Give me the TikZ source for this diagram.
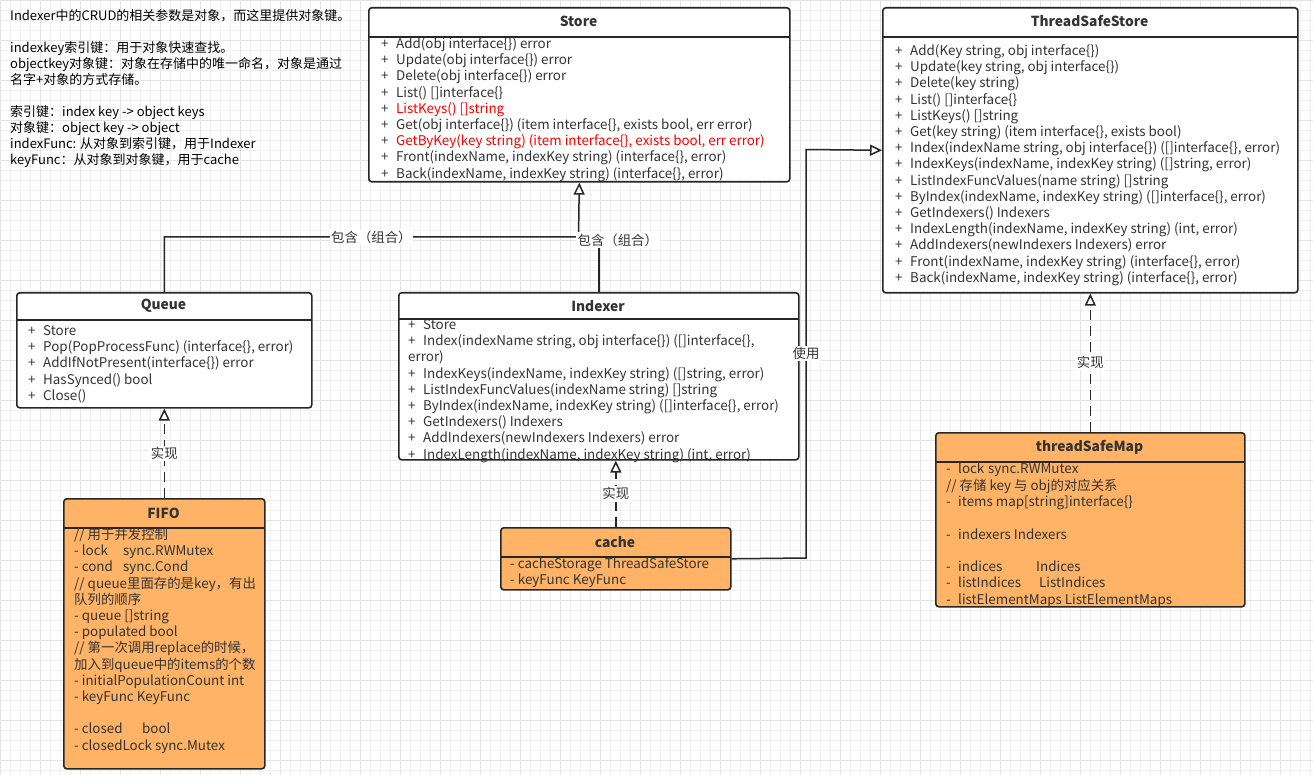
\documentclass[tikz,border=0pt]{standalone}
\usepackage{fontspec}
\setmainfont{Noto Sans CJK SC}
\usetikzlibrary{arrows.meta}
\definecolor{boxorange}{HTML}{FFB366}
\definecolor{inktext}{HTML}{333333}
\definecolor{redop}{HTML}{FF0000}
\newcommand{\pl}[1]{\makebox[15pt][l]{+}#1}
\newcommand{\mi}[1]{\makebox[12pt][l]{-}#1}

\begin{document}
\begin{tikzpicture}
	[x=1pt, y=-1pt,
	font=\fontsize{13.4}{16.2}\selectfont, text=inktext,
	cls/.style = {draw=black!85, line width=1.6pt, rounded corners=3pt, fill=white, anchor=north west, inner sep=0pt},
	implcls/.style = {cls, fill=boxorange},
	sep/.style = {draw=black!85, line width=1.6pt},
	title/.style = {font=\fontsize{13.8}{16}\selectfont\bfseries},
	body/.style = {anchor=north west, inner sep=0pt, align=left},
	link/.style = {line width=1.5pt, draw=black!85, -{Triangle[open, length=12pt, width=11pt, fill=white]}},
	plain/.style = {line width=1.5pt, draw=black!85},
	real/.style = {link, dash pattern=on 10pt off 6pt},
	lbl/.style = {fill=white, inner sep=1.5pt}]
\useasboundingbox (0,0) rectangle (1313,775);
\fill[white] (0,0) rectangle (1313,775);
\draw[black!6, line width=0.5pt] (0,0) grid[step=10pt] (1313,775);
\draw[black!11, line width=0.6pt] (0,0) grid[step=40pt] (1313,775);

% note
\node[body, text=black, font=\fontsize{13}{16}\selectfont] (note) at (10,9) {\strut Indexer中的CRUD的相关参数是对象，而这里提供对象键。\\ \mbox{}\\
indexkey索引键：用于对象快速查找。\\
objectkey对象键：对象在存储中的唯一命名，对象是通过\\
名字+对象的方式存储。\\ \mbox{}\\
索引键：index key -> object keys\\
对象键：object key -> object\\
indexFunc: 从对象到索引键，用于Indexer\\
keyFunc：从对象到对象键，用于cache};

% Store
\node[cls, minimum width=421pt, minimum height=174pt] (store) at (368,7) {};
\node[title] (storett) at (578.5,21) {Store};
\draw[sep] (368,37) -- (789,37);
\node[body] (storeops) at (381,37) {\strut\pl{Add(obj interface\{\}) error}\\
\pl{Update(obj interface\{\}) error}\\
\pl{Delete(obj interface\{\}) error}\\
\pl{List() []interface\{\}}\\
\pl{{\color{redop}ListKeys() []string}}\\
\pl{Get(obj interface\{\}) (item interface\{\}, exists bool, err error)}\\
\pl{{\color{redop}GetByKey(key string) (item interface\{\}, exists bool, err error)}}\\
\pl{Front(indexName, indexKey string) (interface\{\}, error)}\\
\pl{Back(indexName, indexKey string) (interface\{\}, error)}};

% ThreadSafeStore
\node[cls, minimum width=415pt, minimum height=285pt] (tss) at (882,7) {};
\node[title] (tsstt) at (1089.5,21) {ThreadSafeStore};
\draw[sep] (882,37) -- (1297,37);
\node[body] (tssops) at (895,44) {\strut\pl{Add(Key string, obj interface\{\})}\\
\pl{Update(key string, obj interface\{\})}\\
\pl{Delete(key string)}\\
\pl{List() []interface\{\}}\\
\pl{ListKeys() []string}\\
\pl{Get(key string) (item interface\{\}, exists bool)}\\
\pl{Index(indexName string, obj interface\{\}) ([]interface\{\}, error)}\\
\pl{IndexKeys(indexName, indexKey string) ([]string, error)}\\
\pl{ListIndexFuncValues(name string) []string}\\
\pl{ByIndex(indexName, indexKey string) ([]interface\{\}, error)}\\
\pl{GetIndexers() Indexers}\\
\pl{IndexLength(indexName, indexKey string) (int, error)}\\
\pl{AddIndexers(newIndexers Indexers) error}\\
\pl{Front(indexName, indexKey string) (interface\{\}, error)}\\
\pl{Back(indexName, indexKey string) (interface\{\}, error)}};

% Queue
\node[cls, minimum width=295pt, minimum height=115pt] (queue) at (16,292) {};
\node[title] (queuett) at (163.5,306) {Queue};
\draw[sep] (16,320) -- (311,320);
\node[body] (queueops) at (28,324) {\strut\pl{Store}\\
\pl{Pop(PopProcessFunc) (interface\{\}, error)}\\
\pl{AddIfNotPresent(interface\{\}) error}\\
\pl{HasSynced() bool}\\
\pl{Close()}};

% Indexer
\node[cls, minimum width=400pt, minimum height=167pt] (indexer) at (398,292) {};
\node[body] (indexerops) at (408,318) {\strut\pl{Store}\\
\pl{Index(indexName string, obj interface\{\}) ([]interface\{\},}\\
error)\\
\pl{IndexKeys(indexName, indexKey string) ([]string, error)}\\
\pl{ListIndexFuncValues(indexName string) []string}\\
\pl{ByIndex(indexName, indexKey string) ([]interface\{\}, error)}\\
\pl{GetIndexers() Indexers}\\
\pl{AddIndexers(newIndexers Indexers) error}\\
\pl{IndexLength(indexName, indexKey string) (int, error)}};
\fill[white] (400,294) rectangle (796,318);
\node[title] (indexertt) at (598,306) {Indexer};
\draw[sep] (398,319) -- (798,319);

% FIFO
\node[implcls, minimum width=201pt, minimum height=270pt] (fifo) at (63,498) {};
\node[title] (fifott) at (163.5,513) {FIFO};
\draw[sep] (63,528) -- (264,528);
\node[body] (fifoflds) at (74,528) {\strut // 用于并发控制\\
\makebox[49pt][l]{- lock}sync.RWMutex\\
\makebox[49pt][l]{- cond}sync.Cond\\
// queue里面存的是key，有出\\
队列的顺序\\
- queue []string\\
- populated bool\\
// 第一次调用replace的时候，\\
加入到queue中的items的个数\\
- initialPopulationCount int\\
- keyFunc KeyFunc\\ \mbox{}\\
\makebox[68pt][l]{- closed}bool\\
- closedLock sync.Mutex};

% cache
\node[implcls, minimum width=230pt, minimum height=62pt] (cache) at (500,527) {};
\node[title] (cachett) at (615,542) {cache};
\draw[sep] (500,557) -- (730,557);
\node[body] (cacheflds) at (510,557) {\strut - cacheStorage ThreadSafeStore\\
- keyFunc KeyFunc};

% threadSafeMap
\node[implcls, minimum width=309pt, minimum height=174pt] (tsmap) at (935,432) {};
\node[title] (tsmaptt) at (1089.5,447) {threadSafeMap};
\draw[sep] (935,462) -- (1244,462);
\node[body] (tsmapflds) at (946,462) {\strut\mi{\makebox[30pt][l]{lock}sync.RWMutex}\\
// 存储 key 与 obj的对应关系\\
\mi{items map[string]interface\{\}}\\ \mbox{}\\
\mi{indexers Indexers}\\ \mbox{}\\
\mi{\makebox[78pt][l]{indices}Indices}\\
\mi{\makebox[81pt][l]{listIndices}ListIndices}\\
\mi{listElementMaps ListElementMaps}};

% connectors
\coordinate (jn) at (578.5,237);
\draw[link] (queue.north) |- node[lbl, pos=0.75] {包含（组合）} (jn) -- (store.south);
\draw[plain] (indexer.north) |- node[lbl, pos=0.47, xshift=19pt] {包含（组合）} (jn);
\coordinate (u1) at (806,558);
\coordinate (u2) at (806,149.5);
\draw[link] (cache.east) -- (u1) -- node[lbl] {使用} (u2) -- (tss.west);
\draw[real] (fifo.north) -- node[lbl] {实现} (queue.south);
\draw[real] (cache.north) -- node[lbl] {实现} (cache.north |- indexer.south);
\draw[real] (tsmap.north) -- node[lbl] {实现} (tss.south);
\end{tikzpicture}
\end{document}
